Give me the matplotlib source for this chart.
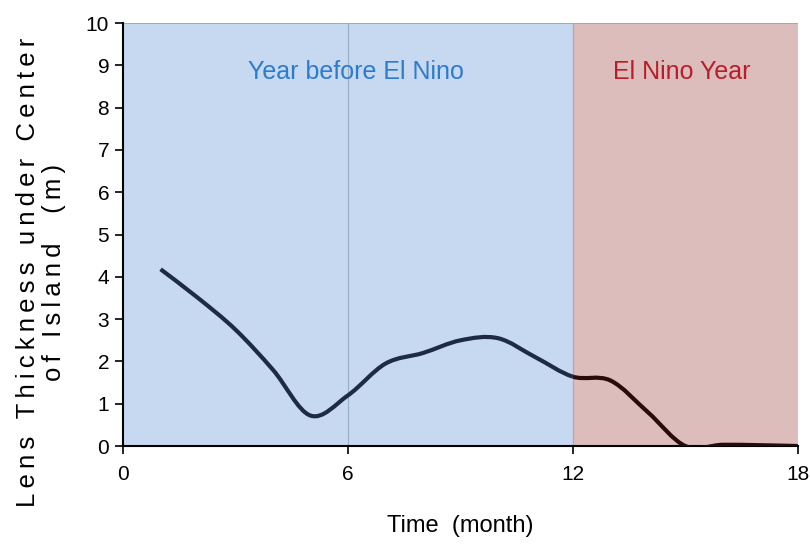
import matplotlib.pyplot as plt
from matplotlib.path import Path
from matplotlib.patches import PathPatch

# values (month, thickness in m)
months = [1, 2, 3, 4, 5, 6, 7, 8, 9, 10, 11, 12, 13, 14, 15, 16, 17, 18]
thickness = [4.18, 3.5, 2.75, 1.8, 0.72, 1.2, 1.95, 2.2, 2.5, 2.55, 2.1, 1.64,
             1.55, 0.8, 0.0, 0.03, 0.02, 0.0]
xticks = [0, 6, 12, 18]
yticks = list(range(0, 11))

plt.rcParams['font.family'] = ['Liberation Sans', 'DejaVu Sans']


def smooth_path(xs, ys, start, stop):
    # Catmull-Rom -> cubic Bezier, like Excel's smoothed line
    n = len(xs)
    verts, codes = [(xs[start], ys[start])], [Path.MOVETO]
    for i in range(start, stop):
        i0, i2, i3 = max(i - 1, 0), i + 1, min(i + 2, n - 1)
        c1 = (xs[i] + (xs[i2] - xs[i0]) / 6, ys[i] + (ys[i2] - ys[i0]) / 6)
        c2 = (xs[i2] - (xs[i3] - xs[i]) / 6, ys[i2] - (ys[i3] - ys[i]) / 6)
        verts += [c1, c2, (xs[i2], ys[i2])]
        codes += [Path.CURVE4] * 3
    return Path(verts, codes)


def spaced(s):
    # wide letter spacing as in the original label
    return '\n'.join('\u2009'.join(line) for line in s.split('\n'))


fig = plt.figure(figsize=(8.1, 5.5), dpi=100)
ax = fig.add_axes([0.152, 0.189, 0.833, 0.769])

ax.axvspan(0, 12, color='#C6D9F0', zorder=0)
ax.axvspan(12, 18, color='#DCBDBB', zorder=0)
ax.axvline(6, color='#9AAFC4', lw=0.8, zorder=1)
ax.axvline(12, color='#9AAFC4', lw=0.8, zorder=1)
ax.axhline(10, color='#9AA4AE', lw=1.2, zorder=1)

i12 = months.index(12)
ax.add_patch(PathPatch(smooth_path(months, thickness, 0, i12), fill=False,
                       edgecolor='#1E2B42', lw=3, capstyle='butt', zorder=3))
ax.add_patch(PathPatch(smooth_path(months, thickness, i12, len(months) - 1), fill=False,
                       edgecolor='#2A0B0B', lw=3, capstyle='butt', zorder=3))

ax.text(6.2, 8.84, 'Year before El Nino', color='#2E7BCC', fontsize=18,
        ha='center', va='center')
ax.text(14.9, 8.84, 'El Nino Year', color='#B81E2A', fontsize=18,
        ha='center', va='center')

ax.set_xlim(0, 18)
ax.set_ylim(0, 10)
ax.set_xticks(xticks)
ax.set_yticks(yticks)
ax.tick_params(axis='both', labelsize=15, length=6, width=1.2, direction='out')
ax.tick_params(axis='y', pad=4)
ax.tick_params(axis='x', pad=8)
for s in ['top', 'right']:
    ax.spines[s].set_visible(False)
for s in ['left', 'bottom']:
    ax.spines[s].set_linewidth(1.5)

ax.set_xlabel('Time  (month)', fontsize=17, labelpad=22)
ax.set_ylabel(spaced('Lens Thickness under Center\nof Island  (m)'), fontsize=18.5,
              linespacing=1.15)
ax.yaxis.set_label_coords(-0.084, 0.411)

fig.savefig('out.png', dpi=100)
